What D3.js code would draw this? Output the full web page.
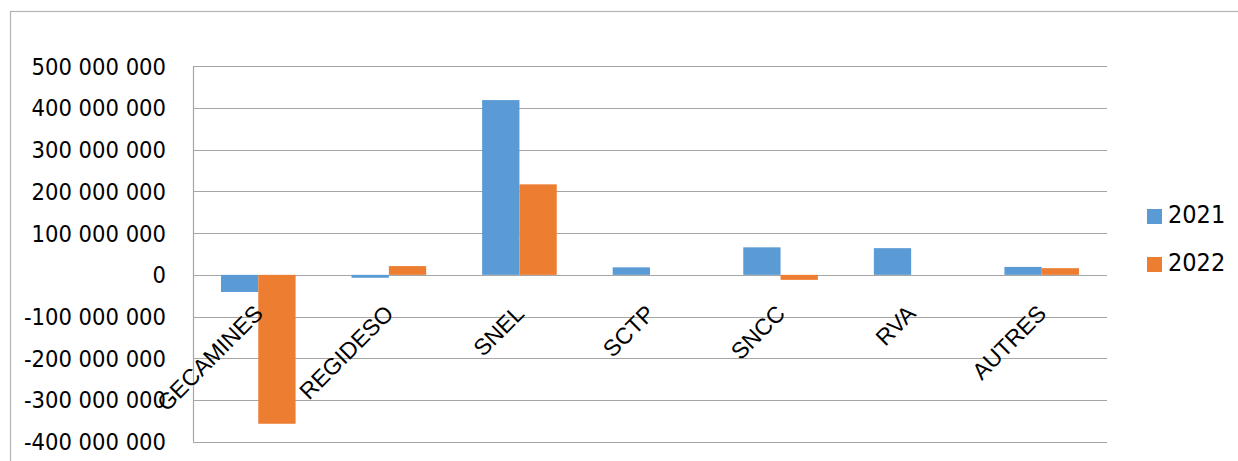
<!DOCTYPE html>
<html>
<head>
<meta charset="utf-8">
<script src="https://cdn.jsdelivr.net/npm/d3@7"></script>
<style>
  body { margin: 0; background: #fff; }
  svg { display: block; }
</style>
</head>
<body>
<svg id="chart" width="1238" height="461"></svg>
<script>
// Data -------------------------------------------------------------------------------
const categories = ["GECAMINES", "REGIDESO", "SNEL", "SCTP", "SNCC", "RVA", "AUTRES"];
const years = ["2021", "2022"];
const values2021 = [-41000000, -7000000, 419000000, 18000000, 66000000, 64000000, 19000000];
const values2022 = [-357000000, 21000000, 217000000, 0, -12000000, 0, 16000000];
const yTicks = [500000000, 400000000, 300000000, 200000000, 100000000, 0,
                -100000000, -200000000, -300000000, -400000000];
const colors = ["#5b9bd5", "#ed7d31"];

// Layout -----------------------------------------------------------------------------
const svg = d3.select("#chart");
const plot = { left: 193, right: 1107, top: 66.3, bottom: 441.7 };

// outer chart border (only top and left visible in the crop)
svg.append("rect")
    .attr("x", 10.5).attr("y", 11.5)
    .attr("width", 1400).attr("height", 600)
    .attr("fill", "none")
    .attr("stroke", "#b3b3b3")
    .attr("stroke-width", 1.2);

const x = d3.scaleBand()
    .domain(categories)
    .range([plot.left, plot.right])
    .paddingInner(1.5 / 3.5)
    .paddingOuter(0.75 / 3.5);

const xSub = d3.scaleBand()
    .domain(years)
    .range([0, x.bandwidth()]);

const y = d3.scaleLinear()
    .domain([-400000000, 500000000])
    .range([plot.bottom, plot.top]);

// space as thousands separator, plain hyphen for negatives
const fmt = v => (v < 0 ? "-" : "") + d3.format(",")(Math.abs(v)).replace(/,/g, " ");

// Gridlines
svg.append("g")
    .selectAll("line")
    .data(yTicks)
    .enter()
    .append("line")
    .attr("x1", plot.left)
    .attr("x2", plot.right)
    .attr("y1", d => Math.round(y(d)) + 0.5)
    .attr("y2", d => Math.round(y(d)) + 0.5)
    .attr("stroke", "#a6a6a6")
    .attr("stroke-width", 1.2);

// vertical axis line
svg.append("line")
    .attr("x1", plot.left + 0.5).attr("x2", plot.left + 0.5)
    .attr("y1", y(500000000)).attr("y2", y(-400000000))
    .attr("stroke", "#a6a6a6")
    .attr("stroke-width", 1.2);

// Y labels
svg.append("g")
    .selectAll("text")
    .data(yTicks)
    .enter()
    .append("text")
    .attr("x", 166)
    .attr("y", d => y(d))
    .attr("dy", "0.36em")
    .attr("text-anchor", "end")
    .style("font-family", "'DejaVu Sans Condensed', 'DejaVu Sans', sans-serif")
    .style("font-size", "23.5px")
    .style("fill", "#000")
    .text(d => fmt(d));

// Bars
const series = [values2021, values2022];
series.forEach(function (vals, s) {
    svg.append("g")
        .selectAll("rect")
        .data(vals)
        .enter()
        .append("rect")
        .attr("x", (d, i) => x(categories[i]) + xSub(years[s]))
        .attr("width", xSub.bandwidth())
        .attr("y", d => Math.min(y(d), y(0)))
        .attr("height", d => Math.abs(y(d) - y(0)))
        .attr("fill", colors[s]);
});

// Category labels, rotated
svg.append("g")
    .selectAll("text")
    .data(categories)
    .enter()
    .append("text")
    .attr("transform", d => "translate(" + (x(d) + x.bandwidth() / 2 + 6) + "," + 315 + ") rotate(-45)")
    .attr("text-anchor", "end")
    .style("font-family", "'Liberation Sans', Arial, sans-serif")
    .style("font-size", "23px")
    .style("fill", "#000")
    .text(d => d);

// Legend
const legend = svg.append("g")
    .selectAll("g")
    .data(years)
    .enter()
    .append("g")
    .attr("transform", (d, i) => "translate(1147," + (209 + i * 48) + ")");

legend.append("rect")
    .attr("width", 15)
    .attr("height", 15)
    .attr("fill", (d, i) => colors[i]);

legend.append("text")
    .attr("x", 21)
    .attr("y", 14)
    .style("font-family", "'DejaVu Sans Condensed', 'DejaVu Sans', sans-serif")
    .style("font-size", "25px")
    .style("fill", "#000")
    .text(d => d);
</script>
</body>
</html>
